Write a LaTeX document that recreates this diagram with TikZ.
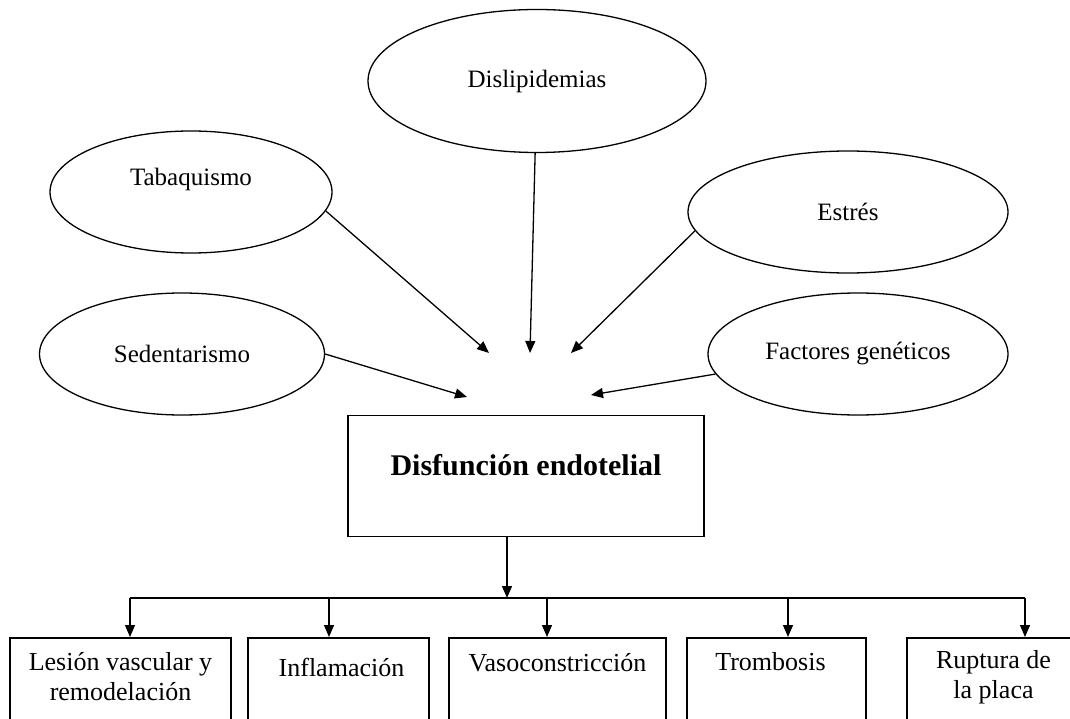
\documentclass[tikz,border=0pt]{standalone}
\usepackage{fontspec}
\setmainfont{Liberation Serif}
\usetikzlibrary{shapes.geometric, arrows.meta, positioning}
\tikzstyle{risk} = [ellipse, minimum width=300pt, minimum height=122pt, inner sep=0pt, draw=black, line width=1.3pt, font=\fontsize{25}{30}\selectfont]
\tikzstyle{core} = [rectangle, minimum width=356pt, minimum height=121pt, draw=black, line width=1.8pt, font=\fontsize{30}{36}\selectfont\bfseries]
\tikzstyle{effect} = [rectangle, anchor=north, minimum height=110pt, draw=black, line width=1.8pt]
\tikzstyle{efftext} = [align=center, font=\fontsize{26}{30}\selectfont]
\tikzstyle{arrow} = [line width=1.3pt,->,>={Triangle[length=12pt,width=10pt]}]
\tikzstyle{branch} = [line width=1.5pt]

\begin{document}
\begin{tikzpicture}[x=1pt, y=-1pt]
    \useasboundingbox (0,0) rectangle (1070,719);
    \clip (0,0) rectangle (1070,719);

    % risk factors
    \node (dis) [risk, minimum width=338pt, minimum height=143pt] at (537,81) {Dislipidemias};
    \node (tab) [risk, minimum width=282pt, text depth=30pt] at (191,192) {Tabaquismo};
    \node (est) [risk, minimum width=320pt] at (848,212) {Estrés};
    \node (sed) [risk, minimum width=285pt] at (182,354) {Sedentarismo};
    \node (fac) [risk] at (858,354) {Factores genéticos};

    \node (dfe) [core, text depth=22pt] at (526,476) {Disfunción endotelial};

    \coordinate (tTab) at (489,353);
    \coordinate (tDis) at (530,353);
    \coordinate (tEst) at (571,353);
    \coordinate (tSed) at (467,397);
    \coordinate (tFac) at (591,395);

    \draw [arrow] (tab.-8) -- (tTab);
    \draw [arrow] (dis) -- (tDis);
    \draw [arrow] (est.187) -- (tEst);
    \draw [arrow] (sed.east) -- (tSed);
    \draw [arrow] (fac.188) -- (tFac);

    % consequences
    \node (les) [effect, minimum width=221pt] at (120.5,637) {};
    \node (inf) [effect, minimum width=181pt] at (338.5,637) {};
    \node (vas) [effect, minimum width=217pt] at (557.5,637) {};
    \node (tro) [effect, minimum width=179pt] at (776.5,637) {};
    \node (rup) [effect, minimum width=173pt] at (993.5,637) {};

    \node (lesT) [efftext, below=12pt of les.north] {Lesión vascular y\\remodelación};
    \node (infT) [efftext, below=18pt of inf.north, xshift=3pt] {Inflamación};
    \node (vasT) [efftext, below=13pt of vas.north] {Vasoconstricción};
    \node (troT) [efftext, below=12pt of tro.north, xshift=-6pt] {Trombosis};
    \node (rupT) [efftext, below=10pt of rup.north] {Ruptura de\\la placa};

    \coordinate (j0) at (507,598);
    \coordinate (j1) at (130,598);
    \coordinate (j2) at (329,598);
    \coordinate (j3) at (547,598);
    \coordinate (j4) at (788,598);
    \coordinate (j5) at (1025,598);

    \draw [arrow] (dfe.south -| j0) -- (j0);
    \draw [branch] (j1) -- (j5);
    \draw [arrow] (j1) -- (j1 |- les.north);
    \draw [arrow] (j2) -- (j2 |- inf.north);
    \draw [arrow] (j3) -- (j3 |- vas.north);
    \draw [arrow] (j4) -- (j4 |- tro.north);
    \draw [arrow] (j5) -- (j5 |- rup.north);
\end{tikzpicture}
\end{document}
